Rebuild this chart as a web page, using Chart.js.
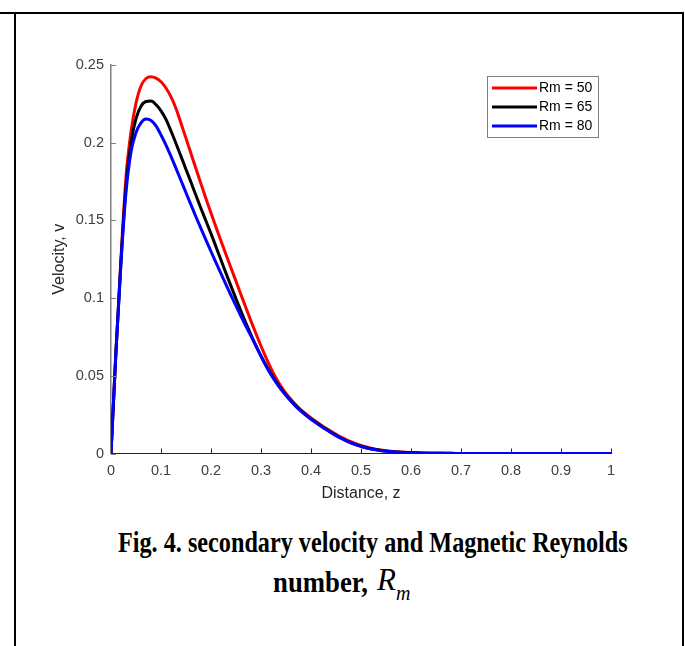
<!DOCTYPE html>
<html>
<head>
<meta charset="utf-8">
<script src="https://cdn.jsdelivr.net/npm/chart.js@4.4.1/dist/chart.umd.min.js"></script>
<style>
    html, body { margin: 0; padding: 0; background: #fff; }
    body { width: 685px; height: 646px; position: relative; overflow: hidden; }
    .rule { position: absolute; background: #000; }
    #plot { position: absolute; left: 0; top: 0; }
    .cap { position: absolute; white-space: nowrap; font-family: 'Liberation Serif', 'Times New Roman', serif; color: #000; line-height: 34px; transform-origin: 0 50%; }
</style>
</head>
<body>
<div class="rule" style="left:0; top:12px; width:684px; height:2px;"></div>
<div class="rule" style="left:14px; top:12px; width:2px; height:634px;"></div>
<div class="rule" style="left:682px; top:12px; width:2px; height:634px;"></div>

<canvas id="plot" width="685" height="510"></canvas>

<div class="cap" id="cap1" style="left:118px; top:525px; font-size:29px; font-weight:bold;">Fig. 4. secondary velocity and Magnetic Reynolds</div>
<div class="cap" id="cap2" style="left:273px; top:565px; font-size:29px; font-weight:bold;">number,</div>
<div class="cap" id="capR" style="left:377px; top:563px; font-size:31px; font-style:italic;">R</div>
<div class="cap" id="capM" style="left:396px; top:576px; font-size:20px; font-style:italic;">m</div>

<script>
// distance z and secondary velocity v for each Rm
const zValues = [
    0, 0.01, 0.02, 0.03, 0.04, 0.05, 0.06, 0.07, 0.08, 0.09,
    0.10, 0.11, 0.12, 0.13, 0.14, 0.15, 0.16, 0.17, 0.18, 0.19,
    0.20, 0.21, 0.22, 0.23, 0.24, 0.25, 0.26, 0.27, 0.28, 0.29,
    0.30, 0.31, 0.32, 0.33, 0.34, 0.35, 0.36, 0.37, 0.38, 0.39,
    0.40, 0.41, 0.42, 0.43, 0.44, 0.45, 0.46, 0.47, 0.48, 0.49,
    0.50, 0.52, 0.54, 0.56, 0.58, 0.60, 0.62, 0.64, 0.66, 0.68,
    0.70, 0.80, 0.90, 1.00
];

const vRm50 = [
    0, 0.066, 0.126, 0.178, 0.207, 0.2255, 0.2365, 0.2413, 0.2425, 0.2415,
    0.2392, 0.2352, 0.2295, 0.222, 0.2125, 0.2028, 0.193, 0.1832, 0.1735, 0.164,
    0.1547, 0.1456, 0.1367, 0.128, 0.1194, 0.1108, 0.1022, 0.0936, 0.0852, 0.0771,
    0.0692, 0.0617, 0.0548, 0.0486, 0.0432, 0.0386, 0.0347, 0.0312, 0.0281, 0.0254,
    0.0229, 0.0206, 0.0184, 0.0163, 0.0143, 0.0124, 0.0106, 0.009, 0.0076, 0.0063,
    0.0052, 0.0034, 0.0022, 0.0014, 0.0009, 0.0006, 0.0004, 0.0002, 0.0001, 0.0001,
    0, 0, 0, 0
];

const vRm65 = [
    0, 0.066, 0.124, 0.172, 0.2, 0.2155, 0.2235, 0.2265, 0.2268, 0.2245,
    0.2205, 0.215, 0.2075, 0.1995, 0.1912, 0.1828, 0.1745, 0.166, 0.1577, 0.1496,
    0.1415, 0.133, 0.1245, 0.116, 0.1077, 0.0995, 0.0915, 0.0838, 0.0764, 0.0693,
    0.0628, 0.0568, 0.0513, 0.0463, 0.0418, 0.0377, 0.034, 0.0306, 0.0275, 0.0248,
    0.0223, 0.02, 0.0178, 0.0157, 0.0137, 0.0117, 0.0099, 0.0083, 0.0069, 0.0057,
    0.0047, 0.003, 0.0019, 0.0012, 0.0008, 0.0005, 0.0003, 0.0002, 0.0001, 0.0001,
    0, 0, 0, 0
];

const vRm80 = [
    0, 0.066, 0.123, 0.168, 0.194, 0.2065, 0.2128, 0.2152, 0.2143, 0.2108,
    0.205, 0.1985, 0.1912, 0.1835, 0.1757, 0.1678, 0.16, 0.1522, 0.1447, 0.1373,
    0.13, 0.1228, 0.1157, 0.1087, 0.1018, 0.095, 0.0883, 0.0818, 0.0755, 0.0692,
    0.0625, 0.0563, 0.0507, 0.0458, 0.0413, 0.0373, 0.0336, 0.0302, 0.0272, 0.0245,
    0.022, 0.0197, 0.0175, 0.0154, 0.0134, 0.0115, 0.0098, 0.0082, 0.0068, 0.0056,
    0.0046, 0.0029, 0.0018, 0.0011, 0.0007, 0.0004, 0.0002, 0.0001, 0.0001, 0,
    0, 0, 0, 0
];

const seriesLabels = ['Rm = 50', 'Rm = 65', 'Rm = 80'];
const seriesColors = ['#ff0000', '#000000', '#0000ff'];
const xTickValues = [0, 0.1, 0.2, 0.3, 0.4, 0.5, 0.6, 0.7, 0.8, 0.9, 1];
const yTickValues = [0, 0.05, 0.1, 0.15, 0.2, 0.25];

const axisFont = '"Liberation Sans", Arial, sans-serif';
const toPoints = vals => zValues.map((z, i) => ({ x: z, y: vals[i] }));

// MATLAB style ticks pointing into the axes
const innerTicks = {
    id: 'innerTicks',
    afterDatasetsDraw(chart) {
        const ctx = chart.ctx;
        const { x, y } = chart.scales;
        ctx.save();
        ctx.lineWidth = 1;
        ctx.strokeStyle = '#262626';
        x.ticks.forEach(t => {
            const px = Math.round(x.getPixelForValue(t.value)) + 0.5;
            ctx.beginPath();
            ctx.moveTo(px, y.bottom);
            ctx.lineTo(px, y.bottom - 5);
            ctx.stroke();
        });
        ctx.strokeStyle = '#808080';
        y.ticks.forEach(t => {
            const py = Math.round(y.getPixelForValue(t.value)) + 0.5;
            ctx.beginPath();
            ctx.moveTo(x.left, py);
            ctx.lineTo(x.left + 5, py);
            ctx.stroke();
        });
        ctx.restore();
    }
};

// boxed legend in the upper right of the plot area
const boxLegend = {
    id: 'boxLegend',
    afterDraw(chart) {
        const ctx = chart.ctx;
        const left = 487.5, top = 76.5, w = 111, h = 61;
        ctx.save();
        ctx.fillStyle = '#fff';
        ctx.fillRect(left, top, w, h);
        ctx.strokeStyle = '#808080';
        ctx.lineWidth = 1;
        ctx.strokeRect(left, top, w, h);
        ctx.font = '14px ' + axisFont;
        ctx.textBaseline = 'middle';
        chart.data.datasets.forEach((ds, i) => {
            const rowY = 88 + i * 19;
            ctx.strokeStyle = ds.borderColor;
            ctx.lineWidth = 3;
            ctx.beginPath();
            ctx.moveTo(492, rowY);
            ctx.lineTo(537, rowY);
            ctx.stroke();
            ctx.fillStyle = '#000';
            ctx.fillText(ds.label, 539, rowY + 0.5);
        });
        ctx.restore();
    }
};

const fmt = v => String(Math.round(v * 100) / 100);

new Chart(document.getElementById('plot'), {
    type: 'scatter',
    data: {
        datasets: [vRm50, vRm65, vRm80].map((vals, i) => ({
            label: seriesLabels[i],
            data: toPoints(vals),
            showLine: true,
            borderColor: seriesColors[i],
            backgroundColor: seriesColors[i],
            borderWidth: 3,
            pointRadius: 0,
            cubicInterpolationMode: 'monotone',
            order: 3 - i
        }))
    },
    options: {
        responsive: false,
        animation: false,
        layout: { padding: { left: 0, top: 65, right: 74, bottom: 0 } },
        plugins: {
            legend: { display: false },
            tooltip: { enabled: false }
        },
        scales: {
            x: {
                type: 'linear',
                min: 0,
                max: 1,
                afterBuildTicks: s => { s.ticks = xTickValues.map(v => ({ value: v })); },
                afterFit: s => { s.height = 56.5; },
                grid: { display: false, drawTicks: false },
                border: { display: true, color: '#262626', width: 1 },
                ticks: {
                    padding: 9,
                    color: '#404040',
                    font: { family: axisFont, size: 14.5 },
                    maxRotation: 0,
                    callback: fmt
                },
                title: {
                    display: true,
                    text: 'Distance, z',
                    color: '#262626',
                    font: { family: axisFont, size: 16 },
                    padding: { top: 0, bottom: 7 }
                }
            },
            y: {
                type: 'linear',
                min: 0,
                max: 0.25,
                afterBuildTicks: s => { s.ticks = yTickValues.map(v => ({ value: v })); },
                afterFit: s => { s.width = 111; },
                grid: { display: false, drawTicks: false },
                border: { display: true, color: '#808080', width: 1.5 },
                ticks: {
                    padding: 7,
                    color: '#404040',
                    font: { family: axisFont, size: 14.5 },
                    callback: fmt
                },
                title: {
                    display: true,
                    text: 'Velocity, v',
                    color: '#262626',
                    font: { family: axisFont, size: 16 },
                    padding: { top: 50, bottom: 0 }
                }
            }
        }
    },
    plugins: [innerTicks, boxLegend]
});

// squeeze caption lines to their printed widths
function fitWidth(id, target) {
    const el = document.getElementById(id);
    el.style.transform = 'scaleX(' + (target / el.offsetWidth) + ')';
}
fitWidth('cap1', 510);
fitWidth('cap2', 95);
</script>
</body>
</html>
